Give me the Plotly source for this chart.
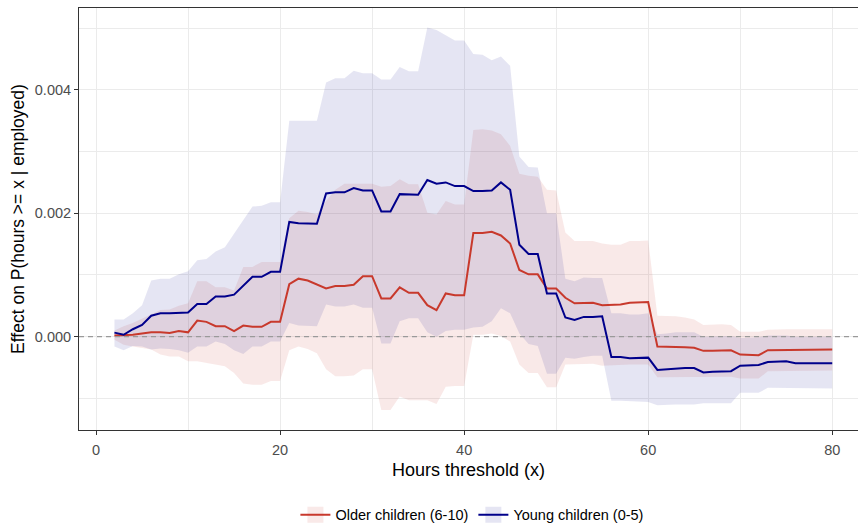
import plotly.graph_objects as go

hours = list(range(2, 81))

young_est = [0.000065, 0.00003, 0.00012, 0.00019, 0.00034, 0.00038, 0.00038, 0.00038, 0.00039,
             0.00053, 0.00053, 0.00065, 0.00065, 0.00068, 0.00082, 0.00097, 0.00097, 0.00105, 0.00105,
             0.00186, 0.00184, 0.00183, 0.00183, 0.00232, 0.00234, 0.00234, 0.00241, 0.00237, 0.00237,
             0.00203, 0.00203, 0.00231, 0.00230, 0.00230, 0.00254, 0.00248, 0.00250, 0.00244, 0.00244,
             0.00236, 0.00236, 0.00237, 0.00250, 0.00238, 0.00149, 0.00134, 0.00134, 0.00070, 0.00070,
             0.00031, 0.00027, 0.00032, 0.00032, 0.00033, -0.00033, -0.00033, -0.00035, -0.00035, -0.00034,
             -0.00054, -0.00053, -0.00051, -0.00051, -0.00051, -0.00058, -0.00057, -0.00056, -0.00056,
             -0.00047, -0.00046, -0.00046, -0.00041, -0.00040, -0.00040, -0.00043, -0.00043, -0.00043,
             -0.00043, -0.00043]
young_hi = [0.00028, 0.00028, 0.00038, 0.00051, 0.00091, 0.00094, 0.00094, 0.00101, 0.00106,
            0.00124, 0.00126, 0.00138, 0.00145, 0.00167, 0.00191, 0.00211, 0.00212, 0.00218, 0.00218,
            0.00350, 0.00350, 0.00350, 0.00350, 0.00412, 0.00419, 0.00419, 0.00431, 0.00427, 0.00427,
            0.00417, 0.00417, 0.00437, 0.00430, 0.00430, 0.00501, 0.00497, 0.00489, 0.00480, 0.00480,
            0.00458, 0.00457, 0.00448, 0.00454, 0.00439, 0.00292, 0.00275, 0.00274, 0.00200, 0.00200,
            0.00094, 0.00090, 0.00096, 0.00095, 0.00095, 0.00038, 0.00038, 0.00036, 0.00036, 0.00038,
            0.00004, 0.00005, 0.00007, 0.00007, 0.00007, 0.00000, 0.00000, 0.00001, 0.00001,
            -0.00002, -0.00001, -0.00001, 0.00002, 0.00002, 0.00002, 0.00000, 0.00000, 0.00000,
            0.00000, 0.00000]
young_lo = [-0.00016, -0.00022, -0.00015, -0.00016, -0.00021, -0.00019, -0.00020, -0.00022, -0.00026,
            -0.00016, -0.00016, -0.00008, -0.00012, -0.00022, -0.00028, -0.00016, -0.00016, -0.00008, -0.00008,
            0.00022, 0.00018, 0.00017, 0.00017, 0.00052, 0.00049, 0.00049, 0.00052, 0.00047, 0.00047,
            -0.00011, -0.00011, 0.00025, 0.00030, 0.00030, 0.00007, 0.00000, 0.00009, 0.00011, 0.00011,
            0.00015, 0.00016, 0.00025, 0.00046, 0.00038, 0.00005, -0.00012, -0.00015, -0.00060, -0.00060,
            -0.00034, -0.00036, -0.00033, -0.00031, -0.00031, -0.00104, -0.00104, -0.00105, -0.00105, -0.00106,
            -0.00111, -0.00110, -0.00110, -0.00110, -0.00110, -0.00108, -0.00108, -0.00108, -0.00108,
            -0.00091, -0.00091, -0.00091, -0.00083, -0.00083, -0.00083, -0.00084, -0.00084, -0.00084,
            -0.00084, -0.00084]

older_est = [0.00002, 0.00002, 0.00003, 0.00005, 0.00007, 0.00007, 0.00006, 0.00009, 0.00007,
             0.00026, 0.00024, 0.00017, 0.00017, 0.00009, 0.00018, 0.00016, 0.00016, 0.00024, 0.00024,
             0.00085, 0.00094, 0.00091, 0.00084, 0.00078, 0.00082, 0.00082, 0.00084, 0.00098, 0.00098,
             0.00062, 0.00062, 0.00080, 0.00071, 0.00071, 0.00051, 0.00043, 0.00070, 0.00067, 0.00067,
             0.00168, 0.00168, 0.00170, 0.00164, 0.00151, 0.00108, 0.00101, 0.00101, 0.00078, 0.00078,
             0.00063, 0.00054, 0.00055, 0.00055, 0.00051, 0.00052, 0.00052, 0.00055, 0.00055, 0.00056,
             -0.00016, -0.00016, -0.00017, -0.00017, -0.00018, -0.00023, -0.00023, -0.00022, -0.00022,
             -0.00029, -0.00030, -0.00030, -0.00022, -0.00022, -0.00021, -0.00021, -0.00021, -0.00021,
             -0.00021, -0.00021]
older_hi = [0.00010, 0.00017, 0.00022, 0.00029, 0.00035, 0.00043, 0.00044, 0.00050, 0.00054,
            0.00090, 0.00090, 0.00080, 0.00080, 0.00075, 0.00113, 0.00113, 0.00121, 0.00121, 0.00121,
            0.00192, 0.00204, 0.00202, 0.00198, 0.00220, 0.00238, 0.00248, 0.00248, 0.00249, 0.00248,
            0.00243, 0.00244, 0.00255, 0.00247, 0.00247, 0.00201, 0.00198, 0.00220, 0.00214, 0.00214,
            0.00335, 0.00336, 0.00334, 0.00328, 0.00309, 0.00264, 0.00261, 0.00259, 0.00238, 0.00237,
            0.00169, 0.00155, 0.00155, 0.00155, 0.00151, 0.00149, 0.00149, 0.00155, 0.00155, 0.00156,
            0.00034, 0.00034, 0.00033, 0.00031, 0.00028, 0.00019, 0.00020, 0.00020, 0.00019,
            0.00008, 0.00008, 0.00008, 0.00011, 0.00012, 0.00012, 0.00012, 0.00012, 0.00012,
            0.00012, 0.00012]
older_lo = [-0.00005, -0.00013, -0.00016, -0.00019, -0.00021, -0.00029, -0.00032, -0.00032, -0.00040,
            -0.00040, -0.00043, -0.00045, -0.00048, -0.00059, -0.00076, -0.00078, -0.00078, -0.00072, -0.00072,
            -0.00022, -0.00016, -0.00020, -0.00027, -0.00053, -0.00064, -0.00064, -0.00063, -0.00053, -0.00053,
            -0.00119, -0.00119, -0.00097, -0.00103, -0.00103, -0.00103, -0.00109, -0.00081, -0.00080, -0.00080,
            0.00003, 0.00003, 0.00005, 0.00001, -0.00008, -0.00045, -0.00059, -0.00059, -0.00082, -0.00082,
            -0.00045, -0.00045, -0.00044, -0.00044, -0.00047, -0.00046, -0.00046, -0.00045, -0.00045, -0.00045,
            -0.00066, -0.00066, -0.00066, -0.00066, -0.00066, -0.00066, -0.00066, -0.00065, -0.00065,
            -0.00068, -0.00068, -0.00068, -0.00056, -0.00056, -0.00055, -0.00055, -0.00055, -0.00055,
            -0.00055, -0.00055]

series_names = ["Older children (6-10)", "Young children (0-5)"]
line_colors = ["#C8392C", "#00008B"]
band_colors = ["rgba(200,57,44,0.11)", "rgba(0,0,139,0.10)"]

FONT = "Liberation Sans, Arial, Helvetica, sans-serif"
TICK_SIZE = 14.5
TITLE_SIZE = 18

fig = go.Figure()

bands = [(older_lo, older_hi), (young_lo, young_hi)]
for (lo, hi), bc in zip(bands, band_colors):
    fig.add_trace(go.Scatter(x=hours, y=lo, mode="lines", line=dict(width=0),
                             showlegend=False, hoverinfo="skip"))
    fig.add_trace(go.Scatter(x=hours, y=hi, mode="lines", line=dict(width=0),
                             fill="tonexty", fillcolor=bc, showlegend=False, hoverinfo="skip"))

for est, name, lc in zip([older_est, young_est], series_names, line_colors):
    fig.add_trace(go.Scatter(x=hours, y=est, mode="lines", name=name, legendgroup=name,
                             showlegend=False, line=dict(color=lc, width=2)))

# legend-only entries: tinted key box with the series line through it
for name, lc, bc in zip(series_names, line_colors, band_colors):
    fig.add_trace(go.Scatter(x=[None], y=[None], mode="lines+markers", name=name, legendgroup=name,
                             line=dict(color=lc, width=2),
                             marker=dict(symbol="square", size=22, color=bc, line=dict(width=0))))

fig.add_hline(y=0, line=dict(color="#9a9a9a", width=1.2, dash="5px,4px"), layer="above")

fig.update_layout(
    width=858, height=525,
    margin=dict(l=79, r=0, t=8, b=95, autoexpand=False),
    paper_bgcolor="white", plot_bgcolor="white",
    font=dict(family=FONT, color="#000000"),
    showlegend=True,
    legend=dict(orientation="h", x=0.505, xanchor="center", y=-0.201, yanchor="middle",
                font=dict(size=TICK_SIZE, family=FONT, color="#000000"),
                traceorder="normal", itemwidth=30, itemsizing="trace", bgcolor="rgba(0,0,0,0)"),
    xaxis=dict(
        range=[-1.85, 82.8], tickmode="array", tickvals=[0, 20, 40, 60, 80],
        ticktext=["0", "20", "40", "60", "80"],
        showgrid=True, gridcolor="#EBEBEB", gridwidth=1,
        minor=dict(tickvals=[10, 30, 50, 70], showgrid=True, gridcolor="#EBEBEB", gridwidth=0.6, ticks=""),
        zeroline=False, showline=True, linecolor="#333333", linewidth=1, mirror=True,
        ticks="outside", ticklen=4, tickcolor="#333333", tickwidth=1, ticklabelstandoff=3,
        tickfont=dict(size=TICK_SIZE, color="#4D4D4D", family=FONT),
        title=dict(text="Hours threshold (x)", font=dict(size=TITLE_SIZE, color="#000000", family=FONT), standoff=5),
    ),
    yaxis=dict(
        range=[-0.001513, 0.005327], tickmode="array", tickvals=[0, 0.002, 0.004],
        ticktext=["0.000", "0.002", "0.004"],
        showgrid=True, gridcolor="#EBEBEB", gridwidth=1,
        minor=dict(tickvals=[-0.001, 0.001, 0.003, 0.005], showgrid=True, gridcolor="#EBEBEB", gridwidth=0.6, ticks=""),
        zeroline=False, showline=True, linecolor="#333333", linewidth=1, mirror=False,
        ticks="outside", ticklen=4, tickcolor="#333333", tickwidth=1,
        tickfont=dict(size=TICK_SIZE, color="#4D4D4D", family=FONT),
        title=dict(text="Effect on P(hours >= x | employed)", font=dict(size=TITLE_SIZE - 0.5, color="#000000", family=FONT), standoff=5),
    ),
)

fig.write_html("out.html")
